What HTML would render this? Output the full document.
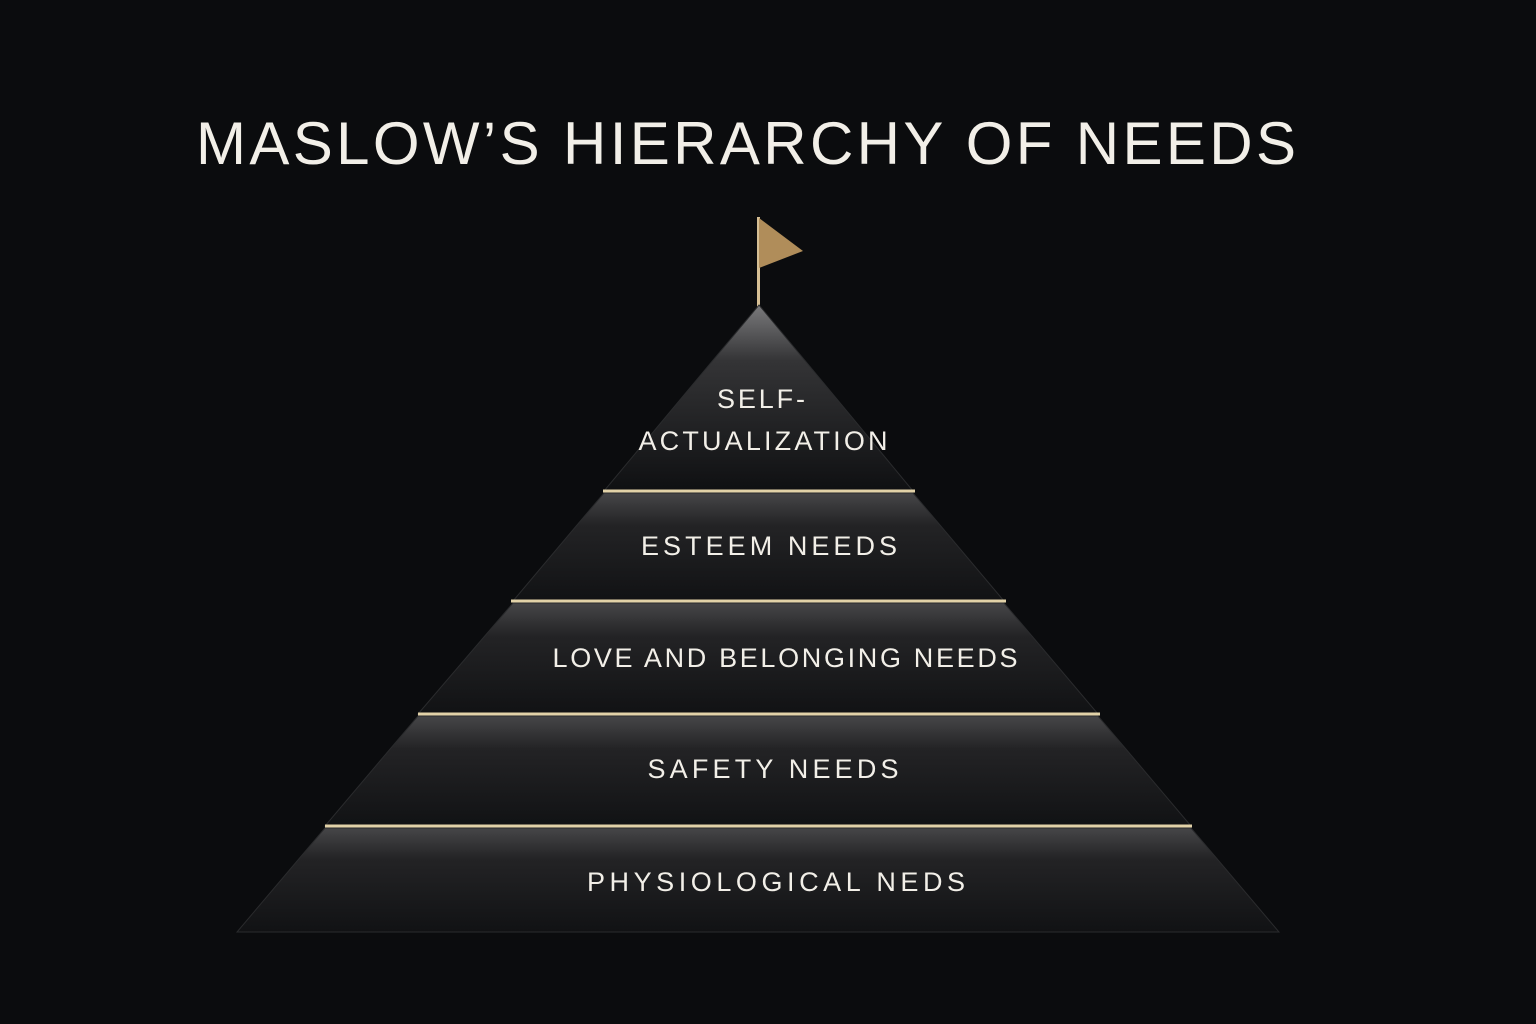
<!DOCTYPE html>
<html><head><meta charset="utf-8"><style>
html,body{margin:0;padding:0;background:#0b0c0e;}
svg{display:block}
text{font-family:"Liberation Sans",sans-serif;fill:#f2efe8;}
</style></head><body>
<svg width="1536" height="1024" viewBox="0 0 1536 1024" xmlns="http://www.w3.org/2000/svg">
<defs>
<linearGradient id="g" x1="0" y1="0" x2="0" y2="1">
<stop offset="0" stop-color="#464648"/>
<stop offset="0.3" stop-color="#232325"/>
<stop offset="1" stop-color="#111214"/>
</linearGradient>
<linearGradient id="gt" x1="0" y1="0" x2="0" y2="1">
<stop offset="0" stop-color="#7a7a7c"/>
<stop offset="0.3" stop-color="#343436"/>
<stop offset="1" stop-color="#0f1012"/>
</linearGradient>
</defs>
<rect width="1536" height="1024" fill="#0b0c0e"/>
<text x="746" y="164" font-size="60" text-anchor="middle" textLength="1100" lengthAdjust="spacing">MASLOW’S HIERARCHY OF NEEDS</text>
<rect x="757" y="217" width="3" height="90" fill="#d6bf94"/>
<polygon points="759,218 803,251 759,268" fill="#b08d5a"/>
<g stroke="#2a2b2d" stroke-width="1">
<polygon points="759,305 913,491 604,491" fill="url(#gt)"/>
<polygon points="604,493 913,493 1004,601 513,601" fill="url(#g)"/>
<polygon points="513,603 1004,603 1098,714 418,714" fill="url(#g)"/>
<polygon points="418,716 1098,716 1191,826 325,826" fill="url(#g)"/>
<polygon points="325,828 1191,828 1279,932 237,932" fill="url(#g)"/>
</g>
<g stroke="#e2d2a8" stroke-width="3">
<line x1="603" y1="491" x2="915" y2="491"/>
<line x1="511" y1="601" x2="1006" y2="601"/>
<line x1="418" y1="714" x2="1100" y2="714"/>
<line x1="325" y1="826" x2="1192" y2="826"/>
</g>
<g font-size="27">
<text x="761" y="408" text-anchor="middle" textLength="88" lengthAdjust="spacing">SELF-</text>
<text x="763" y="450" text-anchor="middle" textLength="249" lengthAdjust="spacing">ACTUALIZATION</text>
<text x="769" y="555" text-anchor="middle" textLength="256" lengthAdjust="spacing">ESTEEM NEEDS</text>
<text x="785" y="667" text-anchor="middle" textLength="465" lengthAdjust="spacing">LOVE AND BELONGING NEEDS</text>
<text x="773" y="778" text-anchor="middle" textLength="251" lengthAdjust="spacing">SAFETY NEEDS</text>
<text x="776" y="891" text-anchor="middle" textLength="378" lengthAdjust="spacing">PHYSIOLOGICAL NEDS</text>
</g>
</svg>
</body></html>
